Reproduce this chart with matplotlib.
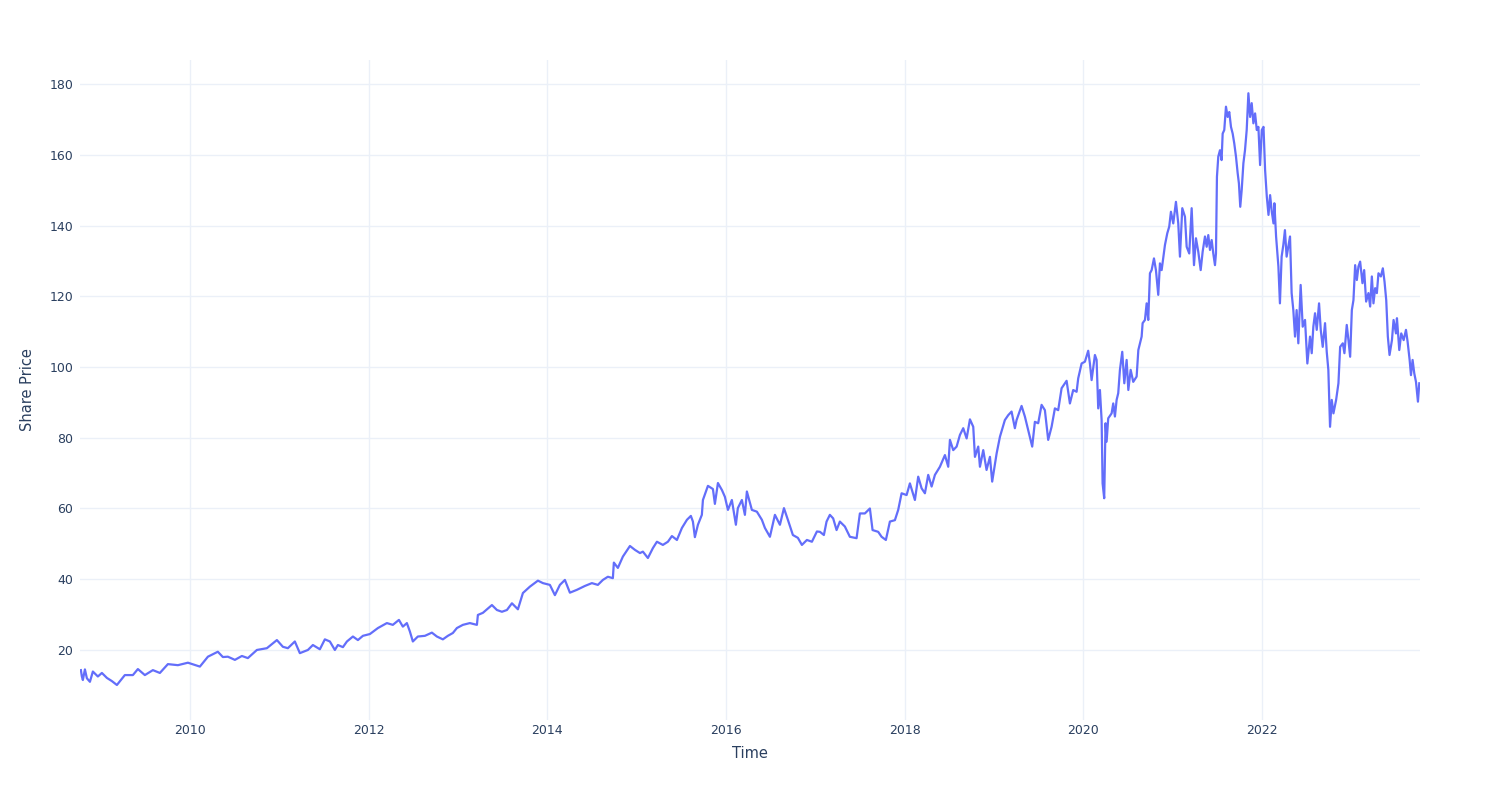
import matplotlib.pyplot as plt

# Share price (decimal year, price)
years_a = [2008.780, 2008.791, 2008.802, 2008.825, 2008.847, 2008.881, 2008.914, 2008.970,
           2009.015, 2009.071, 2009.127, 2009.183, 2009.272, 2009.362, 2009.418, 2009.496,
           2009.586, 2009.664, 2009.754, 2009.866, 2009.978, 2010.112, 2010.202, 2010.313,
           2010.369, 2010.425, 2010.504, 2010.582, 2010.649, 2010.750, 2010.862, 2010.974,
           2011.041, 2011.097, 2011.175, 2011.231, 2011.321, 2011.377, 2011.455, 2011.511,
           2011.567, 2011.623, 2011.657, 2011.713, 2011.758, 2011.825, 2011.881, 2011.937]
price_a = [14.3, 12.5, 11.5, 14.5, 12.0, 11.0, 13.9, 12.5,
           13.5, 12.1, 11.2, 10.1, 12.9, 12.9, 14.6, 12.9,
           14.3, 13.5, 16.0, 15.7, 16.4, 15.3, 18.1, 19.5,
           18.0, 18.1, 17.2, 18.3, 17.7, 20.0, 20.5, 22.8,
           20.9, 20.5, 22.4, 19.1, 20.0, 21.4, 20.2, 23.0,
           22.4, 20.0, 21.4, 20.8, 22.4, 23.8, 22.8, 24.0]

years_b = [2012.015, 2012.105, 2012.205, 2012.272, 2012.340, 2012.384, 2012.429, 2012.463,
           2012.496, 2012.552, 2012.631, 2012.709, 2012.765, 2012.832, 2012.888, 2012.944,
           2012.989, 2013.056, 2013.134, 2013.213, 2013.224, 2013.280, 2013.381, 2013.437,
           2013.493, 2013.549, 2013.605, 2013.672, 2013.728, 2013.806, 2013.896, 2013.952,
           2014.030, 2014.086, 2014.142, 2014.198, 2014.254, 2014.332, 2014.422, 2014.500,
           2014.567, 2014.623, 2014.679, 2014.735, 2014.746, 2014.791, 2014.847, 2014.926,
           2014.982, 2015.038, 2015.071, 2015.127, 2015.183, 2015.228, 2015.295, 2015.351,
           2015.396, 2015.452, 2015.508, 2015.564, 2015.608, 2015.631, 2015.653, 2015.687,
           2015.731, 2015.743, 2015.799, 2015.855, 2015.877, 2015.911, 2015.956, 2015.989]
price_b = [24.5, 26.2, 27.6, 27.1, 28.5, 26.6, 27.6, 25.2,
           22.4, 23.8, 24.0, 24.9, 23.8, 23.0, 24.0, 24.8,
           26.2, 27.1, 27.6, 27.1, 29.9, 30.5, 32.7, 31.3,
           30.8, 31.3, 33.2, 31.5, 36.1, 37.9, 39.6, 38.9,
           38.4, 35.5, 38.4, 39.8, 36.2, 37.0, 38.1, 38.9,
           38.4, 39.8, 40.7, 40.3, 44.7, 43.2, 46.4, 49.4,
           48.3, 47.4, 47.8, 46.0, 48.8, 50.6, 49.7, 50.6,
           52.2, 51.1, 54.5, 56.8, 57.9, 56.3, 51.9, 55.4,
           58.2, 62.4, 66.4, 65.5, 61.3, 67.2, 65.2, 63.3]

years_c = [2016.023, 2016.067, 2016.112, 2016.134, 2016.179, 2016.213, 2016.235, 2016.291,
           2016.347, 2016.403, 2016.437, 2016.493, 2016.549, 2016.605, 2016.650, 2016.694,
           2016.750, 2016.806, 2016.851, 2016.907, 2016.963, 2017.019, 2017.053, 2017.097,
           2017.127, 2017.164, 2017.201, 2017.239, 2017.276, 2017.332, 2017.388, 2017.463,
           2017.500, 2017.556, 2017.612, 2017.642, 2017.705, 2017.743, 2017.791, 2017.836,
           2017.892, 2017.929, 2017.967, 2018.023, 2018.060, 2018.116, 2018.153, 2018.191,
           2018.228, 2018.265, 2018.303, 2018.340, 2018.396, 2018.452, 2018.489, 2018.508,
           2018.545, 2018.583, 2018.620, 2018.657, 2018.695, 2018.732, 2018.769, 2018.788,
           2018.825, 2018.844, 2018.881, 2018.918, 2018.956, 2018.981, 2019.031, 2019.068,
           2019.123, 2019.161, 2019.198, 2019.235, 2019.254, 2019.310, 2019.347, 2019.384,
           2019.429, 2019.459, 2019.496, 2019.534, 2019.571, 2019.608, 2019.646, 2019.683,
           2019.720, 2019.758, 2019.814]
price_c = [59.6, 62.4, 55.4, 60.1, 62.4, 58.2, 64.8, 59.6,
           59.1, 56.8, 54.5, 52.0, 58.2, 55.4, 60.1, 56.8,
           52.5, 51.7, 49.7, 51.1, 50.6, 53.5, 53.4, 52.5,
           56.3, 58.2, 57.2, 53.9, 56.3, 54.9, 52.0, 51.6,
           58.6, 58.6, 60.0, 53.9, 53.4, 52.0, 51.1, 56.3,
           56.7, 59.6, 64.3, 63.8, 67.1, 62.4, 69.0, 65.7,
           64.3, 69.5, 66.2, 69.5, 71.8, 75.1, 71.8, 79.4,
           76.5, 77.5, 80.8, 82.7, 79.8, 85.2, 83.1, 74.6,
           77.5, 71.8, 76.5, 70.9, 74.6, 67.6, 75.6, 80.3,
           85.0, 86.4, 87.4, 82.7, 85.0, 89.0, 86.0, 82.2,
           77.5, 84.5, 84.1, 89.3, 87.8, 79.4, 83.1, 88.3,
           87.8, 94.0, 96.1]

years_d = [2019.851, 2019.888, 2019.926, 2019.944, 2019.982, 2020.019, 2020.056, 2020.075,
           2020.094, 2020.131, 2020.150, 2020.168, 2020.187, 2020.206, 2020.217, 2020.235,
           2020.250, 2020.262, 2020.280, 2020.318, 2020.336, 2020.355, 2020.374, 2020.392,
           2020.411, 2020.437, 2020.460, 2020.486, 2020.505, 2020.531, 2020.560, 2020.598,
           2020.617, 2020.654, 2020.665, 2020.691, 2020.710, 2020.728, 2020.747, 2020.766,
           2020.792, 2020.814, 2020.840, 2020.859, 2020.878, 2020.915, 2020.941, 2020.963,
           2020.982, 2021.008, 2021.038, 2021.064, 2021.083, 2021.109, 2021.139, 2021.158,
           2021.187, 2021.214, 2021.240, 2021.262, 2021.288, 2021.315, 2021.337]
price_d = [89.7, 93.5, 93.0, 96.8, 101.0, 101.5, 104.6, 101.0,
           96.3, 103.4, 102.0, 88.3, 93.5, 85.0, 67.1, 62.9,
           84.1, 78.9, 85.5, 86.9, 89.7, 86.0, 90.7, 92.6,
           99.2, 104.3, 95.4, 102.0, 93.5, 99.2, 95.8, 97.3,
           104.8, 108.6, 112.4, 113.3, 118.0, 113.3, 126.5, 127.4,
           130.7, 127.4, 120.4, 129.3, 127.4, 134.5, 137.8, 139.7,
           143.9, 140.6, 146.7, 140.6, 131.2, 144.9, 142.5, 134.0,
           132.1, 144.9, 128.8, 136.4, 132.6, 127.4, 132.6]

years_e = [2021.363, 2021.382, 2021.400, 2021.419, 2021.438, 2021.456, 2021.475, 2021.486,
           2021.497, 2021.512, 2021.531, 2021.549, 2021.561, 2021.579, 2021.598, 2021.617,
           2021.635, 2021.654, 2021.673, 2021.691, 2021.710, 2021.729, 2021.743, 2021.758,
           2021.774, 2021.793, 2021.811, 2021.830, 2021.849, 2021.868, 2021.886, 2021.905,
           2021.924, 2021.943, 2021.961, 2021.980, 2021.999, 2022.018, 2022.036, 2022.055,
           2022.074, 2022.092, 2022.111, 2022.130]
price_e = [136.9, 134.0, 137.3, 133.1, 135.9, 132.1, 128.8, 132.1,
           153.8, 159.5, 161.3, 158.5, 166.0, 167.0, 173.6, 170.7,
           172.1, 167.9, 166.0, 163.2, 159.5, 154.8, 151.9, 145.3,
           150.0, 157.6, 161.3, 167.0, 177.4, 170.7, 174.6, 168.9,
           171.7, 167.0, 167.9, 157.1, 167.0, 167.9, 155.7, 148.2,
           143.0, 148.6, 143.9, 140.6]

years_f = [2022.140, 2022.159, 2022.185, 2022.202, 2022.221, 2022.240, 2022.258, 2022.277,
           2022.296, 2022.315, 2022.333, 2022.352, 2022.371, 2022.389, 2022.408, 2022.434,
           2022.457, 2022.483, 2022.509, 2022.539, 2022.558, 2022.576, 2022.595, 2022.614,
           2022.640, 2022.659, 2022.681, 2022.707, 2022.726, 2022.744, 2022.763, 2022.782,
           2022.801, 2022.831, 2022.857, 2022.876, 2022.906, 2022.924, 2022.950, 2022.969,
           2022.988, 2023.007, 2023.025, 2023.044, 2023.063, 2023.081, 2023.100, 2023.126,
           2023.145, 2023.167, 2023.193, 2023.212, 2023.231, 2023.249, 2023.268, 2023.287,
           2023.305, 2023.332, 2023.354, 2023.373, 2023.392, 2023.410, 2023.429, 2023.456,
           2023.474, 2023.501, 2023.512, 2023.538, 2023.560, 2023.587, 2023.613, 2023.631,
           2023.654, 2023.669, 2023.687, 2023.706, 2023.725, 2023.747, 2023.762]
price_f = [146.3, 136.9, 128.4, 118.0, 131.2, 134.5, 138.7, 131.2,
           134.0, 136.9, 120.9, 116.1, 108.6, 116.1, 106.7, 123.2,
           111.4, 113.3, 101.0, 108.6, 103.9, 111.4, 115.2, 110.5,
           118.0, 110.5, 105.7, 112.4, 104.3, 99.2, 83.1, 90.7,
           86.9, 90.7, 95.4, 105.7, 106.7, 103.9, 111.9, 107.6,
           102.9, 116.1, 118.9, 128.8, 124.6, 128.4, 129.8, 123.7,
           127.4, 118.5, 120.9, 117.1, 125.6, 118.0, 122.3, 120.9,
           126.5, 125.6, 127.9, 124.1, 118.9, 108.6, 103.4, 107.6,
           113.3, 109.5, 113.8, 104.8, 109.5, 107.6, 110.5, 107.2,
           102.0, 97.7, 102.0, 98.2, 95.8, 90.2, 95.4]

years = years_a + years_b + years_c + years_d + years_e + years_f
price = price_a + price_b + price_c + price_d + price_e + price_f

tick_years = [2010, 2012, 2014, 2016, 2018, 2020, 2022]
price_ticks = [20, 40, 60, 80, 100, 120, 140, 160, 180]

text_col = '#2a3f5f'
grid_col = '#ebf0f8'

fig = plt.figure(figsize=(15, 8), dpi=100)
ax = fig.add_axes([80 / 1500, 80 / 800, 1340 / 1500, 660 / 800])

ax.plot(years, price, color='#636efa', linewidth=1.6)

ax.set_xlim(2008.77, 2023.77)
ax.set_ylim(0.2, 186.8)
ax.set_xticks(tick_years)
ax.set_xticklabels([str(y) for y in tick_years])
ax.set_yticks(price_ticks)

ax.grid(True, color=grid_col, linewidth=1)
ax.set_axisbelow(True)
for s in ax.spines.values():
    s.set_visible(False)
ax.tick_params(length=0, labelsize=9, labelcolor=text_col)
ax.tick_params(axis='x', pad=3)
ax.tick_params(axis='y', pad=5)

ax.set_xlabel('Time', fontsize=10.5, color=text_col, labelpad=6)
ax.set_ylabel('Share Price', fontsize=10.5, color=text_col, labelpad=10)

fig.savefig('out.png', dpi=100, facecolor='white')
